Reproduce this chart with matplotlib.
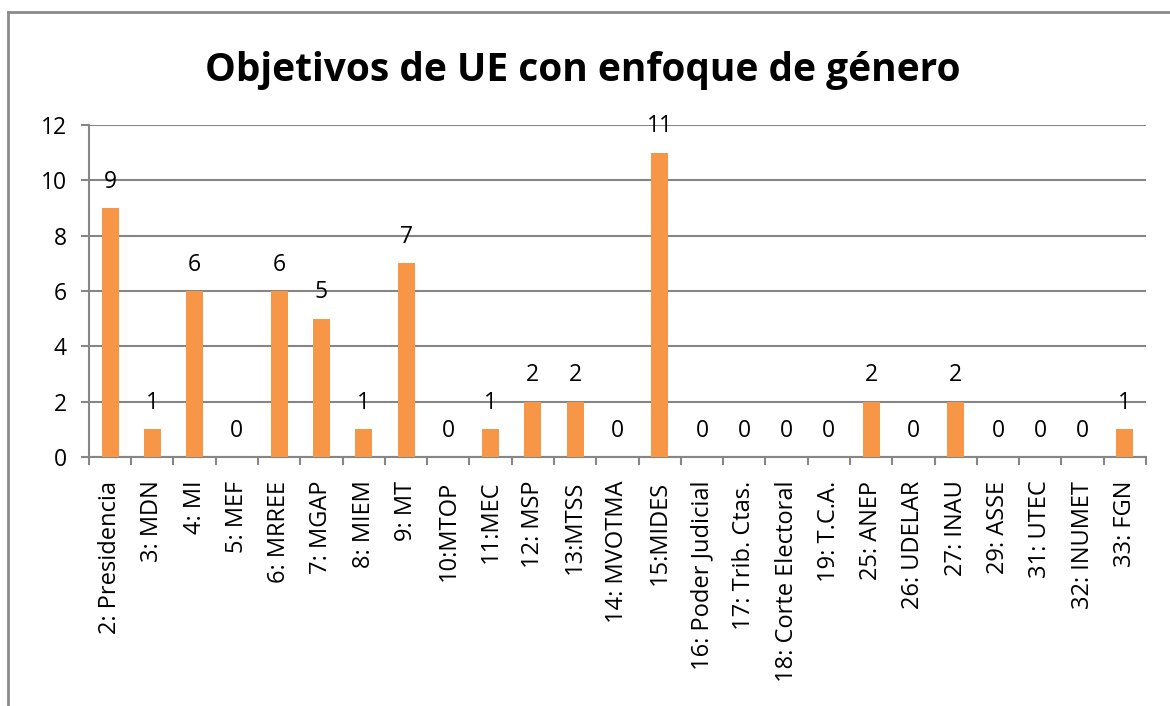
import matplotlib
matplotlib.use('Agg')
import matplotlib.pyplot as plt
from matplotlib.lines import Line2D

categories = ["2: Presidencia", "3: MDN", "4: MI", "5: MEF", "6: MRREE", "7: MGAP",
              "8: MIEM", "9: MT", "10:MTOP", "11:MEC", "12: MSP", "13:MTSS",
              "14: MVOTMA", "15:MIDES", "16: Poder Judicial", "17: Trib. Ctas.",
              "18: Corte Electoral", "19: T.C.A.", "25: ANEP", "26: UDELAR",
              "27: INAU", "29: ASSE", "31: UTEC", "32: INUMET", "33: FGN"]
values = [9, 1, 6, 0, 6, 5, 1, 7, 0, 1, 2, 2, 0, 11, 0, 0, 0, 0, 2, 0, 2, 0, 0, 0, 1]
y_ticks = [0, 2, 4, 6, 8, 10, 12]

plt.rcParams['font.family'] = ['Open Sans', 'DejaVu Sans']
grid_col = '#868686'
bar_col = '#F79646'

fig = plt.figure(figsize=(11.7, 7.06), dpi=100)
ax = fig.add_axes([0.076, 0.3527, 0.9035, 0.4703])

x = list(range(len(categories)))
ax.bar(x, values, width=0.4, color=bar_col, zorder=3)
for xi, v in zip(x, values):
    ax.annotate(str(v), (xi, v), xytext=(0, 19), textcoords='offset points',
                ha='center', va='center', fontsize=16.5)

ax.set_xlim(-0.5, len(categories) - 0.5)
ax.set_ylim(0, 12)
ax.set_yticks(y_ticks)
ax.yaxis.grid(True, color=grid_col, linewidth=1.5, zorder=0)
ax.set_xticks(x)
ax.set_xticklabels(categories, rotation=90, fontsize=17)
ax.set_xticks([i - 0.5 for i in range(len(categories) + 1)], minor=True)
ax.tick_params(axis='x', which='major', length=0, pad=17)
ax.tick_params(axis='x', which='minor', length=6, width=1.5, color=grid_col)
ax.tick_params(axis='y', length=6, width=1.5, color=grid_col, labelsize=16.5, pad=10)
for s in ['top', 'right']:
    ax.spines[s].set_visible(False)
for s in ['left', 'bottom']:
    ax.spines[s].set_color(grid_col)
    ax.spines[s].set_linewidth(1.5)

fig.text(0.498, 0.90, "Objetivos de UE con enfoque de género", ha='center', va='center',
         fontsize=28, fontweight='bold')

# outer chart frame (cropped on right and bottom)
fig.add_artist(Line2D([8 / 1170, 8 / 1170], [0, 1 - 12 / 706], color='#8a8a8a', linewidth=2,
                      transform=fig.transFigure))
fig.add_artist(Line2D([8 / 1170, 1], [1 - 12 / 706, 1 - 12 / 706], color='#8a8a8a', linewidth=2,
                      transform=fig.transFigure))

fig.savefig('out.png', dpi=100)
